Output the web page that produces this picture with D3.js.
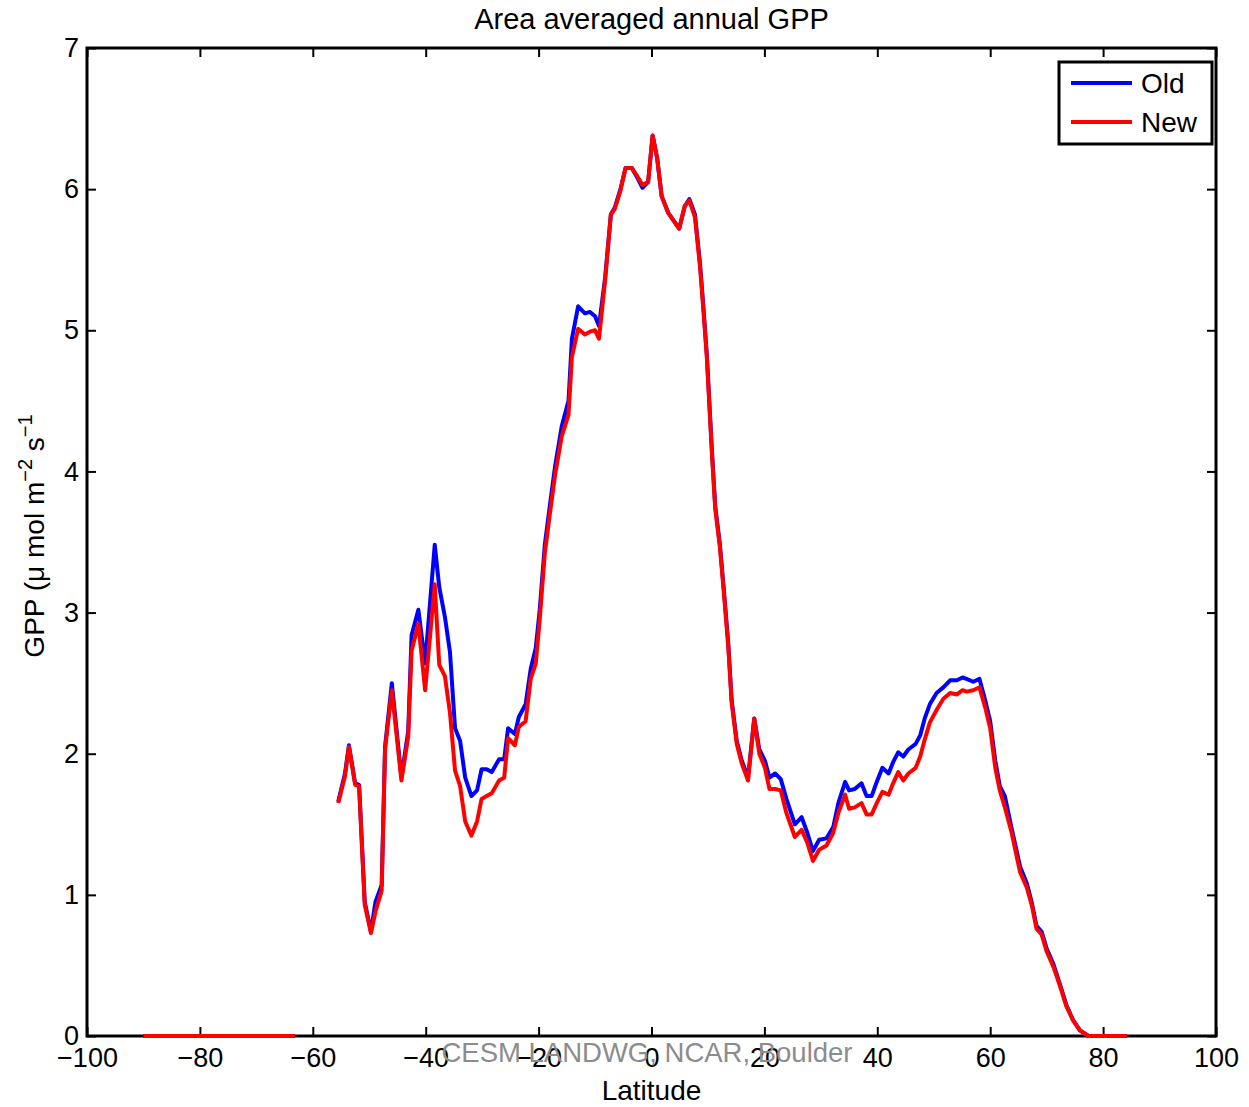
<!DOCTYPE html>
<html><head><meta charset="utf-8">
<script src="https://cdn.jsdelivr.net/npm/d3@7"></script>
<style>
body{margin:0;background:#fff;}
text{font-family:"Liberation Sans",Arial,Helvetica,sans-serif;}
</style></head>
<body><svg id="c" width="1249" height="1107"></svg>
<script>
const lats = [-55.5,-54.3,-53.6,-52.5,-51.8,-50.8,-49.7,-48.9,-47.8,-47.2,-46.0,-44.3,-43.1,-42.5,-41.3,-40.1,-38.4,-37.6,-36.6,-35.7,-34.8,-33.9,-33.0,-31.9,-30.9,-30.1,-29.2,-28.3,-27.0,-26.1,-25.4,-24.2,-23.5,-22.3,-21.4,-20.5,-19.8,-18.9,-18.0,-17.1,-15.9,-14.7,-14.1,-13.0,-11.8,-10.9,-10.0,-9.3,-8.2,-7.2,-6.5,-5.5,-4.6,-3.5,-2.5,-1.6,-0.6,0.2,1.0,1.8,3.0,4.9,5.9,6.7,7.7,8.6,9.2,9.8,10.7,11.3,12.1,12.8,13.6,14.2,15.1,16.0,17.1,18.2,19.1,20.1,20.9,21.9,22.9,23.9,25.4,26.6,27.6,28.6,29.7,31.0,32.2,33.1,34.3,35.0,36.0,37.2,38.1,39.0,39.9,40.9,42.0,42.8,43.7,44.6,45.5,46.8,47.6,48.4,49.3,50.5,51.7,52.9,54.1,55.1,55.8,57.0,58.1,59.1,60.0,60.9,61.7,62.6,63.8,65.3,66.5,67.4,68.2,69.1,70.0,71.2,72.4,73.5,74.7,75.9,77.4,80.0,84.2];
const gppNew = [1.65,1.84,2.05,1.78,1.77,0.93,0.73,0.88,1.03,2.03,2.45,1.81,2.12,2.73,2.92,2.45,3.20,2.63,2.55,2.29,1.88,1.77,1.52,1.42,1.52,1.68,1.70,1.72,1.81,1.83,2.11,2.06,2.19,2.23,2.53,2.64,2.95,3.42,3.70,3.97,4.25,4.40,4.81,5.01,4.97,4.99,5.00,4.94,5.36,5.82,5.86,5.99,6.15,6.15,6.09,6.03,6.05,6.38,6.22,5.95,5.83,5.72,5.88,5.92,5.80,5.45,5.14,4.81,4.13,3.73,3.47,3.15,2.76,2.36,2.07,1.93,1.81,2.25,2.00,1.90,1.75,1.75,1.74,1.58,1.41,1.46,1.37,1.24,1.32,1.35,1.44,1.58,1.71,1.61,1.62,1.65,1.57,1.57,1.65,1.73,1.71,1.79,1.87,1.81,1.86,1.90,1.98,2.10,2.22,2.31,2.39,2.43,2.42,2.45,2.44,2.45,2.47,2.33,2.18,1.90,1.74,1.62,1.44,1.16,1.05,0.92,0.76,0.72,0.60,0.49,0.35,0.21,0.11,0.04,0,0,0];
const gppOld = [1.66,1.86,2.06,1.79,1.78,0.95,0.74,0.95,1.07,2.05,2.50,1.83,2.16,2.84,3.02,2.64,3.48,3.18,2.97,2.72,2.18,2.09,1.83,1.70,1.74,1.89,1.89,1.87,1.96,1.96,2.18,2.14,2.26,2.35,2.60,2.75,3.02,3.48,3.76,4.03,4.32,4.50,4.94,5.17,5.12,5.13,5.10,5.03,5.38,5.82,5.87,6.00,6.15,6.15,6.08,6.01,6.05,6.38,6.22,5.95,5.83,5.72,5.88,5.93,5.82,5.47,5.16,4.83,4.15,3.75,3.49,3.17,2.78,2.38,2.09,1.95,1.83,2.25,2.03,1.95,1.83,1.86,1.82,1.68,1.50,1.55,1.44,1.31,1.39,1.40,1.48,1.65,1.80,1.74,1.75,1.79,1.70,1.70,1.80,1.90,1.86,1.94,2.01,1.98,2.03,2.07,2.13,2.25,2.35,2.43,2.47,2.52,2.52,2.54,2.53,2.51,2.53,2.38,2.23,1.95,1.77,1.70,1.47,1.20,1.08,0.94,0.78,0.74,0.62,0.51,0.36,0.22,0.11,0.04,0,0,0];
const zeroLats = [-90.0,-63.2];
const zeroVals = [0,0];
const xTicks = [-100,-80,-60,-40,-20,0,20,40,60,80,100];
const yTicks = [0,1,2,3,4,5,6,7];
const seriesNames = ["Old","New"];
const seriesColors = ["#0000ff","#ff0000"];

const svg = d3.select("#c");
const L=87,R=1216,T=48,B=1036;
const x = d3.scaleLinear().domain([-100,100]).range([L,R]);
const y = d3.scaleLinear().domain([0,7]).range([B,T]);

// title
svg.append("text").attr("x",(L+R)/2).attr("y",29).attr("text-anchor","middle")
  .attr("font-size",29).text("Area averaged annual GPP");

// axes
function style(sel){
  sel.select(".domain").remove();
  sel.selectAll(".tick line").attr("stroke","#000").attr("stroke-width",2);
  sel.selectAll(".tick text").attr("font-size",27).attr("fill","#000")
     .attr("font-family","'Liberation Sans',Arial,sans-serif");
}
const fmt = d=> d<0 ? "\u2212"+Math.abs(d) : String(d);
svg.append("g").attr("transform",`translate(0,${B})`)
  .call(d3.axisBottom(x).tickValues(xTicks).tickSize(-9).tickPadding(12).tickFormat(fmt)).call(style);
svg.append("g").attr("transform",`translate(0,${T})`)
  .call(d3.axisTop(x).tickValues(xTicks).tickSize(-9).tickFormat("")).call(style);
svg.append("g").attr("transform",`translate(${L},0)`)
  .call(d3.axisLeft(y).tickValues(yTicks).tickSize(-9).tickPadding(8).tickFormat(fmt)).call(style);
svg.append("g").attr("transform",`translate(${R},0)`)
  .call(d3.axisRight(y).tickValues(yTicks).tickSize(-9).tickFormat("")).call(style);

// frame
svg.append("rect").attr("x",L).attr("y",T).attr("width",R-L).attr("height",B-T)
  .attr("fill","none").attr("stroke","#000").attr("stroke-width",3);

// lines (drawn over the frame, as in the reference)
const line = d3.line().x(d=>x(d[0])).y(d=>y(d[1]));
const g = svg.append("g");
const oldPts = lats.map((l,i)=>[l,gppOld[i]]);
const newPts = lats.map((l,i)=>[l,gppNew[i]]);
const zeroPts = zeroLats.map((l,i)=>[l,zeroVals[i]]);
[[oldPts,0],[newPts,1]].forEach(([pts,k])=>{
  g.append("path").attr("d",line(pts)).attr("fill","none").attr("stroke",seriesColors[k])
   .attr("stroke-width",4).attr("stroke-linejoin","round");
});
g.append("path").attr("d",line(zeroPts)).attr("fill","none").attr("stroke",seriesColors[0]).attr("stroke-width",4);
g.append("path").attr("d",line(zeroPts)).attr("fill","none").attr("stroke",seriesColors[1]).attr("stroke-width",4);

// axis labels
svg.append("text").attr("x",(L+R)/2).attr("y",1100).attr("text-anchor","middle")
  .attr("font-size",28).text("Latitude");
const yl = svg.append("text").attr("transform","translate(44,536) rotate(-90)")
  .attr("text-anchor","middle").attr("font-size",28);
yl.append("tspan").text("GPP (\u03bc mol m");
yl.append("tspan").attr("dy",-12).attr("font-size",20).text("\u22122");
yl.append("tspan").attr("dy",12).text(" s");
yl.append("tspan").attr("dy",-12).attr("font-size",20).text("\u22121");

// watermark
svg.append("text").attr("x",647).attr("y",1062).attr("text-anchor","middle")
  .attr("font-size",27.5).attr("fill","#8c8c8c").attr("font-family","'Open Sans',sans-serif")
  .text("CESM LANDWG, NCAR, Boulder");

// legend
const lg = svg.append("g");
lg.append("rect").attr("x",1059).attr("y",62).attr("width",153).attr("height",82)
  .attr("fill","#fff").attr("stroke","#000").attr("stroke-width",3);
seriesNames.forEach((n,i)=>{
  const yy = 83 + i*39;
  lg.append("line").attr("x1",1071).attr("x2",1132).attr("y1",yy).attr("y2",yy)
    .attr("stroke",seriesColors[i]).attr("stroke-width",4);
  lg.append("text").attr("x",1141).attr("y",yy+10).attr("font-size",28).text(n);
});
</script></body></html>
